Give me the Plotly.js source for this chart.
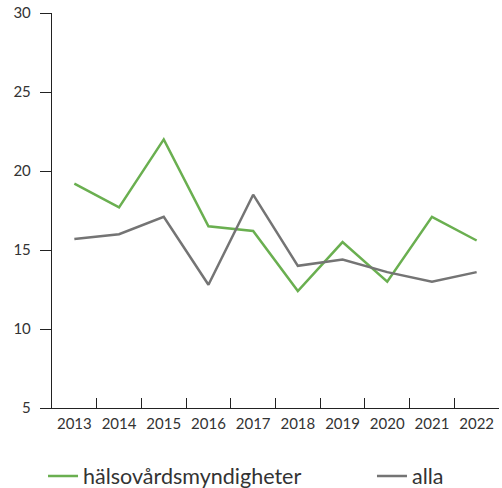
<!DOCTYPE html>
<html>
<head>
<meta charset="utf-8">
<script src="https://cdn.plot.ly/plotly-3.0.1.min.js"></script>
<style>html,body{margin:0;padding:0;background:#fff;}#chart{width:502px;height:488px;}</style>
</head>
<body>
<div id="chart"></div>
<script>
var years = ['2013','2014','2015','2016','2017','2018','2019','2020','2021','2022'];
var halso = [19.2, 17.7, 22.0, 16.5, 16.2, 12.4, 15.5, 13.0, 17.1, 15.6];
var alla = [15.7, 16.0, 17.1, 12.8, 18.5, 14.0, 14.4, 13.6, 13.0, 13.6];
var yTicks = [5, 10, 15, 20, 25, 30];

var font = 'Lato, "Open Sans", sans-serif';
var traces = [
  {x: years, y: halso, type: 'scatter', mode: 'lines', name: 'hälsovårdsmyndigheter',
   line: {color: '#6aaf50', width: 2.5}, legend: 'legend'},
  {x: years, y: alla, type: 'scatter', mode: 'lines', name: 'alla',
   line: {color: '#747474', width: 2.5}, legend: 'legend2'}
];
var legendBase = {orientation: 'h', xref: 'container', yref: 'container',
  xanchor: 'left', yanchor: 'middle', y: 0.0246,
  font: {size: 21.5, color: '#333'}, itemwidth: 30, bgcolor: 'rgba(0,0,0,0)'};
var layout = {
  width: 502, height: 488,
  margin: {l: 52, r: 3, t: 13, b: 80},
  paper_bgcolor: '#fff', plot_bgcolor: '#fff',
  font: {family: font, color: '#333', size: 15},
  showlegend: true,
  legend: Object.assign({}, legendBase, {x: 0.0857}),
  legend2: Object.assign({}, legendBase, {x: 0.741}),
  xaxis: {type: 'category', range: [-0.5, 9.5], tickson: 'boundaries', ticks: 'inside', ticklen: 10,
    tickcolor: '#222', showline: true, linecolor: '#222', linewidth: 1.2,
    showgrid: false, zeroline: false, tickfont: {size: 15}, ticklabelstandoff: 2, fixedrange: true},
  yaxis: {range: [5, 30], tickvals: yTicks, ticks: 'outside', ticklen: 11,
    tickcolor: '#222', showline: true, linecolor: '#222', linewidth: 1.2,
    showgrid: false, zeroline: false, tickfont: {size: 15}, ticklabelstandoff: 6, fixedrange: true}
};
Plotly.newPlot('chart', traces, layout, {displayModeBar: false, staticPlot: true});
</script>
</body>
</html>
